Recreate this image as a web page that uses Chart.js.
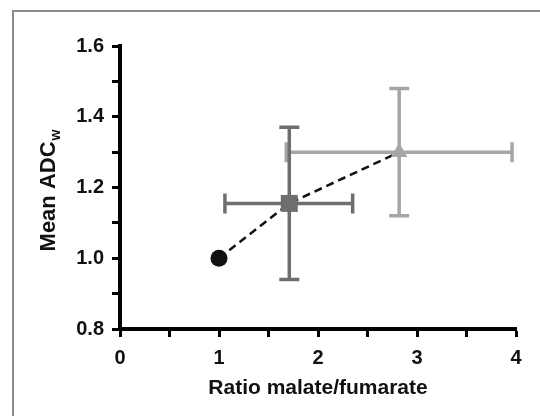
<!DOCTYPE html>
<html>
<head>
<meta charset="utf-8">
<script src="https://cdn.jsdelivr.net/npm/chart.js@4/dist/chart.umd.min.js"></script>
<style>
  body { margin: 0; background: #fff; }
  #wrap { position: relative; width: 540px; height: 416px; overflow: hidden; }
  #frame { position: absolute; left: 12px; top: 10px; width: 600px; height: 500px;
           border-left: 2px solid #8c8c8c; border-top: 2px solid #8c8c8c; pointer-events: none; }
</style>
</head>
<body>
<div id="wrap">
  <canvas id="chart" width="540" height="416"></canvas>
  <div id="frame"></div>
</div>
<script>
// データ
const ratio = [1.0, 1.71, 2.82];          // x: malate/fumarate
const adc = [1.0, 1.155, 1.30];           // y: mean ADCw
const ratioLow = [null, 1.06, 1.68];
const ratioHigh = [null, 2.35, 3.96];
const adcLow = [null, 0.94, 1.12];
const adcHigh = [null, 1.37, 1.48];
const markerColors = ['#111111', '#6e6e6e', '#a6a6a6'];
const markerStyles = ['circle', 'rect', 'triangle'];
const markerSizes = [8.5, 12, 9.5];

const fontFamily = '"Liberation Sans", Arial, sans-serif';

// エラーバー
const errorBars = {
    id: 'errorBars',
    beforeDatasetsDraw(chart) {
        const ctx = chart.ctx;
        const xs = chart.scales.x, ys = chart.scales.y;
        const cap = 10;
        ctx.save();
        ctx.lineWidth = 3.5;
        for (let i = ratio.length - 1; i >= 0; i--) {
            if (ratioLow[i] === null) continue;
            ctx.strokeStyle = markerColors[i];
            const px = xs.getPixelForValue(ratio[i]);
            const py = ys.getPixelForValue(adc[i]);
            const x1 = xs.getPixelForValue(ratioLow[i]);
            const x2 = xs.getPixelForValue(ratioHigh[i]);
            const y1 = ys.getPixelForValue(adcLow[i]);
            const y2 = ys.getPixelForValue(adcHigh[i]);
            ctx.beginPath();
            ctx.moveTo(x1, py); ctx.lineTo(x2, py);
            ctx.moveTo(x1, py - cap); ctx.lineTo(x1, py + cap);
            ctx.moveTo(x2, py - cap); ctx.lineTo(x2, py + cap);
            ctx.moveTo(px, y1); ctx.lineTo(px, y2);
            ctx.moveTo(px - cap, y1); ctx.lineTo(px + cap, y1);
            ctx.moveTo(px - cap, y2); ctx.lineTo(px + cap, y2);
            ctx.stroke();
        }
        ctx.restore();
    }
};

// 縦軸タイトル (下付き文字)
const yTitle = {
    id: 'yTitle',
    afterDraw(chart) {
        const ctx = chart.ctx;
        const main = 'Mean ADC', sub = 'w';
        ctx.save();
        ctx.fillStyle = '#111';
        ctx.textBaseline = 'middle';
        ctx.translate(49, 191);
        ctx.rotate(-Math.PI / 2);
        ctx.font = 'bold 22px ' + fontFamily;
        const w1 = ctx.measureText(main).width;
        ctx.font = 'bold 14px ' + fontFamily;
        const w2 = ctx.measureText(sub).width;
        const start = -(w1 + w2) / 2;
        ctx.font = 'bold 22px ' + fontFamily;
        ctx.fillText(main, start, 0);
        ctx.font = 'bold 14px ' + fontFamily;
        ctx.fillText(sub, start + w1 + 1, 7);
        ctx.restore();
    }
};

const markerSets = ratio.map((x, i) => ({
    data: [{ x: x, y: adc[i] }],
    pointStyle: markerStyles[i],
    pointRadius: markerSizes[i],
    backgroundColor: markerColors[i],
    borderColor: markerColors[i],
    borderWidth: 0,
    order: 0
}));

new Chart(document.getElementById('chart'), {
    type: 'scatter',
    data: {
        datasets: [{
            data: ratio.map((x, i) => ({ x: x, y: adc[i] })),
            showLine: true,
            borderColor: '#111111',
            borderWidth: 2.5,
            borderDash: [8, 5],
            pointRadius: 0,
            order: 5
        }, ...markerSets]
    },
    options: {
        responsive: false,
        animation: false,
        layout: { padding: { left: 0, top: 46, right: 24, bottom: 0 } },
        plugins: { legend: { display: false }, tooltip: { enabled: false } },
        scales: {
            x: {
                type: 'linear',
                min: 0, max: 4,
                afterFit: s => { s.height = 87; },
                border: { color: '#000', width: 4 },
                grid: { drawOnChartArea: false, tickLength: 8, tickWidth: 3, tickColor: '#000' },
                ticks: {
                    stepSize: 0.5,
                    autoSkip: false,
                    maxRotation: 0,
                    padding: 9,
                    color: '#111',
                    font: { family: fontFamily, size: 20, weight: 'bold' },
                    callback: v => Number.isInteger(v) ? String(v) : ''
                },
                title: {
                    display: true,
                    text: 'Ratio malate/fumarate',
                    color: '#111',
                    padding: { top: 0, bottom: 15 },
                    font: { family: fontFamily, size: 21, weight: 'bold' }
                }
            },
            y: {
                type: 'linear',
                min: 0.8, max: 1.6,
                afterFit: s => { s.width = 120; },
                border: { color: '#000', width: 4 },
                grid: { drawOnChartArea: false, tickLength: 8, tickWidth: 3, tickColor: '#000' },
                ticks: {
                    stepSize: 0.1,
                    autoSkip: false,
                    padding: 8,
                    color: '#111',
                    font: { family: fontFamily, size: 20, weight: 'bold' },
                    callback: v => Math.round(v * 10) % 2 === 0 ? v.toFixed(1) : ''
                }
            }
        }
    },
    plugins: [errorBars, yTitle]
});
</script>
</body>
</html>
